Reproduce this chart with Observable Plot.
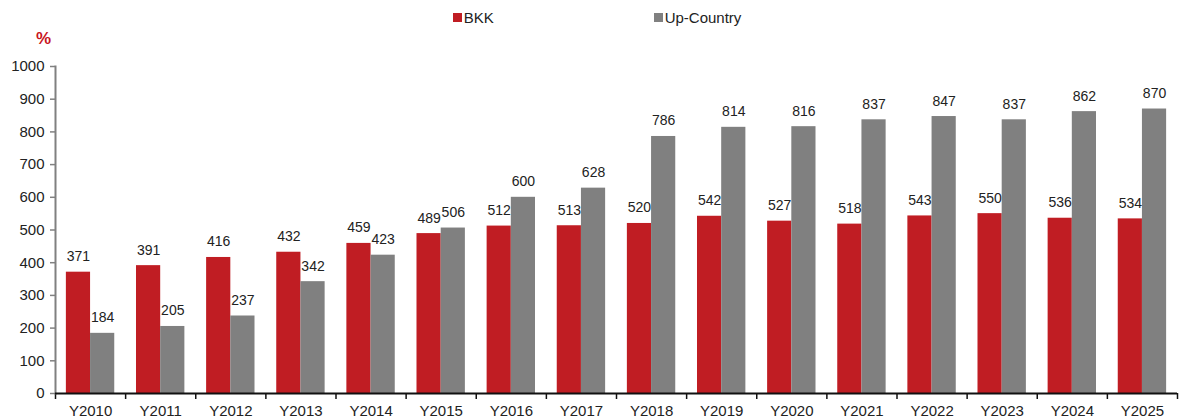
<!DOCTYPE html>
<html>
<head>
<meta charset="utf-8">
<script src="https://cdn.jsdelivr.net/npm/d3@7"></script>
<script src="https://cdn.jsdelivr.net/npm/@observablehq/plot@0.6"></script>
<style>
  body { margin: 0; background: #fff; font-family: "Liberation Sans", Arial, sans-serif; }
  #wrap { position: relative; width: 1182px; height: 419px; }
  #legend { position: absolute; left: 0; top: 0; width: 1182px; height: 34px; display: flex; justify-content: center; align-items: center; gap: 160px; padding-left: 12px; font-size: 15px; color: #222; box-sizing: border-box; }
  #legend .item { display: flex; align-items: center; gap: 2px; }
  #legend .sw { width: 9px; height: 9px; display: inline-block; }
</style>
</head>
<body>
<div id="wrap">
<div id="chart"></div>
<div id="legend"></div>
</div>
<script>
const years = ["Y2010","Y2011","Y2012","Y2013","Y2014","Y2015","Y2016","Y2017","Y2018","Y2019","Y2020","Y2021","Y2022","Y2023","Y2024","Y2025"];
const seriesNames = ["BKK", "Up-Country"];
const bkk = [371,391,416,432,459,489,512,513,520,542,527,518,543,550,536,534];
const upCountry = [184,205,237,342,423,506,600,628,786,814,816,837,847,837,862,870];
const yTicks = [0,100,200,300,400,500,600,700,800,900,1000];
const seriesColors = ["#C01D23", "#808080"];
const unitLabel = "%";

// share of a year group's width taken by one bar
const barShare = 0.345;

const rows = [];
years.forEach((yr, i) => {
  rows.push({year: yr, idx: i, series: seriesNames[0], value: bkk[i], x1: i - barShare, x2: i});
  rows.push({year: yr, idx: i, series: seriesNames[1], value: upCountry[i], x1: i, x2: i + barShare});
});

// legend
const legend = document.getElementById("legend");
seriesNames.forEach((s, i) => {
  const it = document.createElement("div");
  it.className = "item";
  const sw = document.createElement("span");
  sw.className = "sw";
  sw.style.background = seriesColors[i];
  const t = document.createElement("span");
  t.textContent = s;
  it.appendChild(sw); it.appendChild(t);
  legend.appendChild(it);
});

const n = years.length;
const centers = d3.range(n);
const bounds = d3.range(-0.5, n, 1);

const chart = Plot.plot({
  width: 1182,
  height: 419,
  marginTop: 66,
  marginBottom: 26,
  marginLeft: 55,
  marginRight: 5,
  style: { fontFamily: "'Liberation Sans', Arial, sans-serif", fontSize: "15px", color: "#222", background: "#fff" },
  x: { type: "linear", domain: [-0.5, n - 0.5] },
  y: { domain: [0, 1000] },
  color: { domain: seriesNames, range: seriesColors },
  marks: [
    Plot.rectY(rows, { x1: "x1", x2: "x2", y1: 0, y2: "value", fill: "series" }),
    Plot.text(rows, { x: d => (d.x1 + d.x2) / 2, y: "value", text: d => String(d.value), lineAnchor: "bottom", dy: -11, fill: "#222", fontSize: 14 }),
    Plot.axisY({ ticks: yTicks, tickSize: 5, tickPadding: 6, tickFormat: d => String(d), stroke: "#808080", fill: "#222", strokeWidth: 1.5, label: null, fontSize: 15 }),
    Plot.axisX({ ticks: bounds, tickSize: 6, tickFormat: () => "", stroke: "#111", strokeWidth: 1.5, label: null }),
    Plot.axisX({ ticks: centers, tickSize: 0, tickPadding: 12, tickFormat: i => years[i], fill: "#222", label: null, fontSize: 15 }),
    Plot.frame({ anchor: "left", stroke: "#808080", strokeWidth: 2 }),
    Plot.ruleY([0], { stroke: "#111", strokeWidth: 2 }),
    Plot.text([unitLabel], { frameAnchor: "top-left", text: d => d, dx: -12, dy: -35, fill: "#C8161D", fontWeight: "bold", fontSize: 17, textAnchor: "middle" })
  ]
});
document.getElementById("chart").appendChild(chart);
</script>
</body>
</html>
